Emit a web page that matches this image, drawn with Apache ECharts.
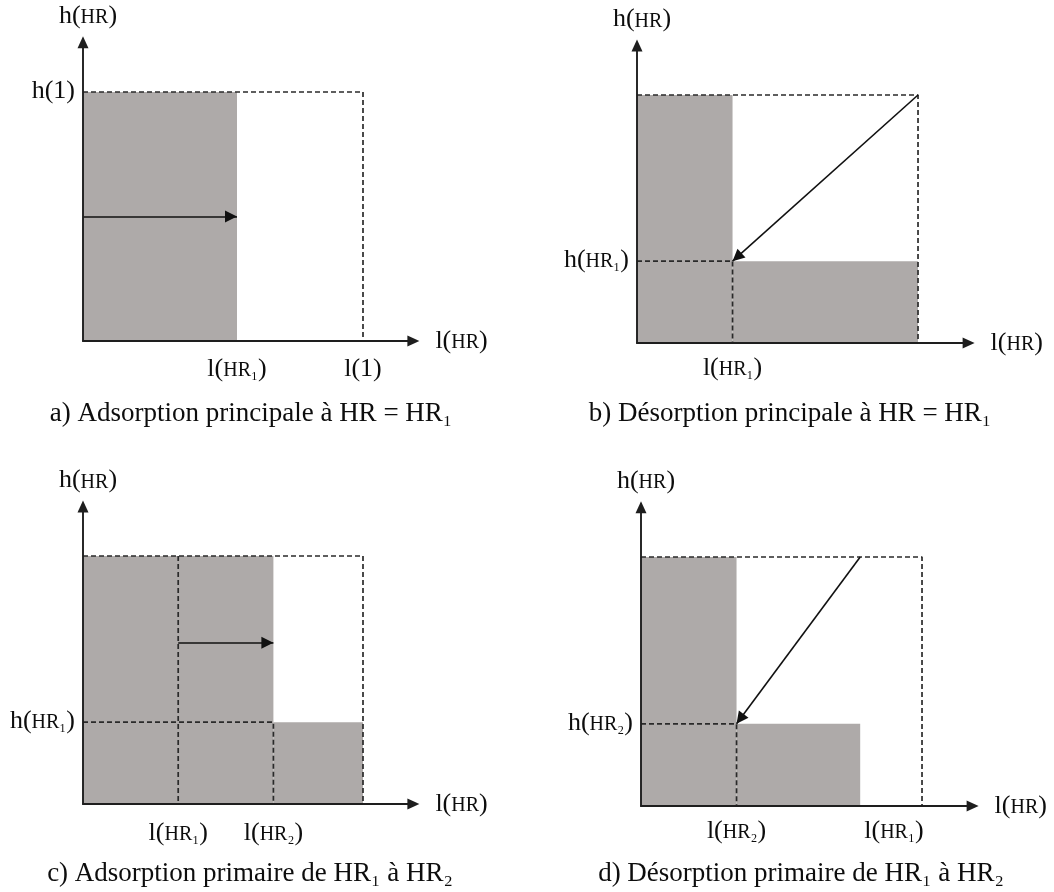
<!DOCTYPE html>
<html>
<head>
<meta charset="utf-8">
<script src="https://cdn.jsdelivr.net/npm/echarts@6/dist/echarts.min.js"></script>
<style>
html,body{margin:0;padding:0;background:#fff;}
#chart{width:1054px;height:892px;}
</style>
</head>
<body>
<div id="chart"></div>
<script>
// ---------- data (unit box: l(1) = 1, h(1) = 1) ----------
// Panel a
const aShade = [[0, 0, 0.55, 1]];
const aDashed = [[[0, 1], [1, 1], [1, 0]]];
const aArrow = [[0, 0.5], [0.55, 0.5]];
const aXTicks = [0.55, 1];
const aXLabels = ['l(HR₁)', 'l(1)'];
const aYTicks = [1];
const aYLabels = ['h(1)'];
// Panel b
const bShade = [[0, 0, 0.34, 1], [0.34, 0, 1, 0.33]];
const bDashed = [[[0, 1], [1, 1], [1, 0]], [[0, 0.33], [0.34, 0.33], [0.34, 0]]];
const bArrow = [[1, 1], [0.34, 0.33]];
const bXTicks = [0.34];
const bXLabels = ['l(HR₁)'];
const bYTicks = [0.33];
const bYLabels = ['h(HR₁)'];
// Panel c
const cShade = [[0, 0, 0.68, 1], [0.68, 0, 1, 0.33]];
const cDashed = [[[0, 1], [1, 1], [1, 0]], [[0.34, 1], [0.34, 0]], [[0, 0.33], [0.68, 0.33], [0.68, 0]]];
const cArrow = [[0.34, 0.65], [0.68, 0.65]];
const cXTicks = [0.34, 0.68];
const cXLabels = ['l(HR₁)', 'l(HR₂)'];
const cYTicks = [0.33];
const cYLabels = ['h(HR₁)'];
// Panel d
const dShade = [[0, 0, 0.34, 1], [0.34, 0, 0.78, 0.33]];
const dDashed = [[[0, 1], [1, 1], [1, 0]], [[0, 0.33], [0.34, 0.33], [0.34, 0]]];
const dArrow = [[0.78, 1], [0.34, 0.33]];
const dXTicks = [0.34, 0.9];
const dXLabels = ['l(HR₂)', 'l(HR₁)'];
const dYTicks = [0.33];
const dYLabels = ['h(HR₂)'];

const xAxisName = 'l(HR)';
const yAxisName = 'h(HR)';
const captions = [
  'a) Adsorption principale à HR = HR₁',
  'b) Désorption principale à HR = HR₁',
  'c) Adsorption primaire de HR₁ à HR₂',
  'd) Désorption primaire de HR₁ à HR₂'
];

// ---------- layout / style ----------
const FONT = "'Liberation Serif', 'DejaVu Serif', serif";
const TXT = '#0d0d0d';
const GRAY = '#aeaaa9';
const X_MAX = 1.18, Y_MAX = 1.2;

const panels = [
  {grid: {left: 83, top: 42.2, width: 330.4, height: 298.8}, shade: aShade, dashed: aDashed, arrow: aArrow,
   xt: aXTicks, xl: aXLabels, yt: aYTicks, yl: aYLabels, xMargin: 13, cap: [251, 399]},
  {grid: {left: 637, top: 45.4, width: 331.6, height: 297.6}, shade: bShade, dashed: bDashed, arrow: bArrow,
   xt: bXTicks, xl: bXLabels, yt: bYTicks, yl: bYLabels, xMargin: 10, cap: [790, 399]},
  {grid: {left: 83, top: 506.4, width: 330.4, height: 297.6}, shade: cShade, dashed: cDashed, arrow: cArrow,
   xt: cXTicks, xl: cXLabels, yt: cYTicks, yl: cYLabels, xMargin: 14, cap: [250, 859]},
  {grid: {left: 641, top: 507.2, width: 331.6, height: 298.8}, shade: dShade, dashed: dDashed, arrow: dArrow,
   xt: dXTicks, xl: dXLabels, yt: dYTicks, yl: dYLabels, xMargin: 10, cap: [801, 859]}
];

const richStyle = {
  s: {fontFamily: FONT, fontSize: 20, color: TXT, padding: [4, 0, 0, 0]}
};
function toRich(t) {
  return t.replace(/\((HR[₁₂]?)\)/, '({s|$1})');
}
function lookup(ticks, labels) {
  return function (v) {
    for (let i = 0; i < ticks.length; i++) {
      if (Math.abs(ticks[i] - v) < 1e-6) return toRich(labels[i]);
    }
    return '';
  };
}
const labelBase = {fontFamily: FONT, fontSize: 26, color: TXT, lineHeight: 30, rich: richStyle};
const axisLineStyle = {show: true, onZero: false, symbol: ['none', 'triangle'], symbolSize: [11, 12],
  lineStyle: {color: '#1e1e1e', width: 1.9}};

const option = {
  backgroundColor: '#ffffff',
  animation: false,
  title: [],
  grid: [],
  xAxis: [],
  yAxis: [],
  series: []
};

panels.forEach(function (p, i) {
  option.grid.push(Object.assign({outerBoundsMode: 'none', containLabel: false}, p.grid));
  option.title.push({
    text: captions[i], left: p.cap[0], top: p.cap[1], textAlign: 'center', padding: 0,
    textStyle: {fontFamily: FONT, fontSize: 27, fontWeight: 'normal', color: TXT, lineHeight: 30}
  });
  option.xAxis.push({
    type: 'value', gridIndex: i, min: 0, max: X_MAX, z: 10,
    axisLine: axisLineStyle,
    axisTick: {show: false}, splitLine: {show: false},
    axisLabel: Object.assign({customValues: p.xt, formatter: lookup(p.xt, p.xl), margin: p.xMargin}, labelBase),
    name: toRich(xAxisName), nameLocation: 'end', nameGap: 22, nameMoveOverlap: false,
    nameTextStyle: Object.assign({align: 'left', verticalAlign: 'middle'}, labelBase)
  });
  option.yAxis.push({
    type: 'value', gridIndex: i, min: 0, max: Y_MAX, z: 10,
    axisLine: axisLineStyle,
    axisTick: {show: false}, splitLine: {show: false},
    axisLabel: Object.assign({customValues: p.yt, formatter: lookup(p.yt, p.yl), margin: 8, padding: [0, 0, 2, 0]}, labelBase),
    name: toRich(yAxisName), nameLocation: 'end', nameGap: 11, nameMoveOverlap: false,
    nameTextStyle: Object.assign({padding: [0, 0, 0, 10]}, labelBase)
  });
  // shaded regions
  option.series.push({
    type: 'custom', xAxisIndex: i, yAxisIndex: i, z: 1, silent: true, clip: false,
    data: p.shade,
    encode: {x: [0, 2], y: [1, 3]},
    renderItem: function (params, api) {
      const p0 = api.coord([api.value(0), api.value(1)]);
      const p1 = api.coord([api.value(2), api.value(3)]);
      return {type: 'rect', shape: {x: p0[0], y: p1[1], width: p1[0] - p0[0], height: p0[1] - p1[1]},
        style: {fill: GRAY}};
    }
  });
  // dashed guide lines
  p.dashed.forEach(function (pts, k) {
    const s = {
      type: 'line', xAxisIndex: i, yAxisIndex: i, z: 3, silent: true, clip: false,
      data: pts, symbol: 'none', showSymbol: false,
      lineStyle: {type: [5, 3], color: '#2a2a2a', width: 1.7}
    };
    if (k === 0) {
      s.markLine = {
        silent: true, animation: false, symbol: ['none', 'triangle'], symbolSize: 12,
        symbolOffset: [0, [0, '50%']],
        label: {show: false},
        lineStyle: {type: 'solid', color: '#111', width: 1.6},
        emphasis: {disabled: true},
        data: [[{coord: p.arrow[0]}, {coord: p.arrow[1]}]]
      };
    }
    option.series.push(s);
  });
});

const chart = echarts.init(document.getElementById('chart'), null, {renderer: 'canvas'});
chart.setOption(option);
</script>
</body>
</html>
